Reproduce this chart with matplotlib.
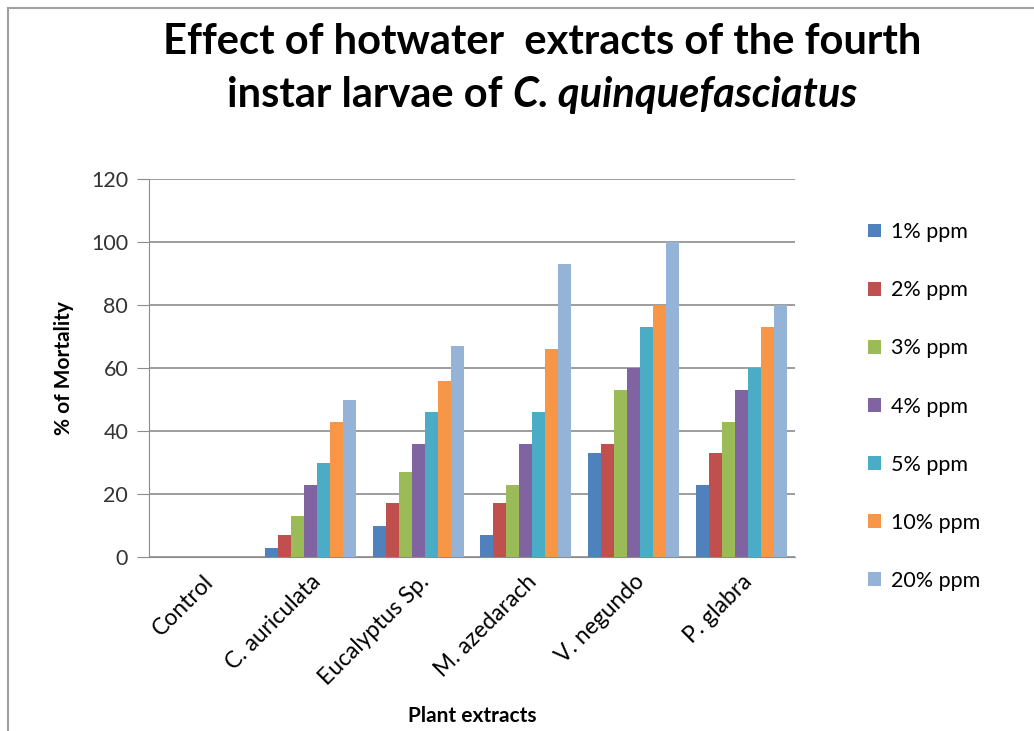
import matplotlib.pyplot as plt
import numpy as np
from matplotlib.patches import Rectangle

plt.rcParams["font.family"] = ["Lato", "DejaVu Sans"]

categories = ["Control", "C. auriculata", "Eucalyptus Sp.", "M. azedarach", "V. negundo", "P. glabra"]
series = ["1% ppm", "2% ppm", "3% ppm", "4% ppm", "5% ppm", "10% ppm", "20% ppm"]
ppm1 = [0, 3, 10, 7, 33, 23]
ppm2 = [0, 7, 17, 17, 36, 33]
ppm3 = [0, 13, 27, 23, 53, 43]
ppm4 = [0, 23, 36, 36, 60, 53]
ppm5 = [0, 30, 46, 46, 73, 60]
ppm10 = [0, 43, 56, 66, 80, 73]
ppm20 = [0, 50, 67, 93, 100, 80]
values = [ppm1, ppm2, ppm3, ppm4, ppm5, ppm10, ppm20]
colors = ["#4F81BD", "#C0504D", "#9BBB59", "#8064A2", "#4BACC6", "#F79646", "#95B3D7"]

W, H = 1034, 731
fig = plt.figure(figsize=(W / 100, H / 100), dpi=100)
ax = fig.add_axes([149/W, 1 - 557/H, (795-149)/W, (557-179)/H])

x = np.arange(len(categories))
w = 1 / (7 + 1.3)
for i, (vals, c, lab) in enumerate(zip(values, colors, series)):
    ax.bar(x + (i - 3) * w, vals, width=w, color=c, label=lab, zorder=3)

ax.set_xlim(-0.5, len(categories) - 0.5)
ax.set_ylim(0, 120)
ax.set_yticks(range(0, 121, 20))
ax.yaxis.grid(True, color="#8c8c8c", linewidth=1.2, zorder=0)
for s in ["top", "right"]:
    ax.spines[s].set_visible(False)
ax.spines["left"].set_color("#8c8c8c")
ax.spines["bottom"].set_color("#8c8c8c")
ax.tick_params(axis="y", length=9, color="#8c8c8c", labelsize=15.5, pad=6, labelcolor="#333333")
ax.tick_params(axis="x", length=0, labelsize=16.5, pad=10)
ax.set_xticks(x)
ax.set_xticklabels(categories, rotation=45, ha="right", rotation_mode="anchor")
ax.set_ylabel("% of Mortality", fontsize=15, fontweight="bold", labelpad=12)
ax.set_xlabel("Plant extracts", fontsize=15, fontweight="bold", labelpad=12)

ax.legend(loc="center left", bbox_to_anchor=(868/W, 1 - 406.5/H), bbox_transform=fig.transFigure,
          frameon=False, fontsize=15.5, borderpad=0, borderaxespad=0,
          labelspacing=1.77, handlelength=0.6, handleheight=0.6, handletextpad=0.45)

# title, second line has italic species name
fig.text(542/W, 1 - 42/H, "Effect of hotwater  extracts of the fourth", ha="center", va="center",
         fontsize=30, fontweight="bold")
t1 = fig.text(0, 1 - 95/H, "instar larvae of ", ha="left", va="center", fontsize=30, fontweight="bold")
t2 = fig.text(0, 1 - 95/H, "C. quinquefasciatus", ha="left", va="center", fontsize=30,
              fontweight="bold", style="italic")
r = fig.canvas.get_renderer()
w1 = t1.get_window_extent(r).width
w2 = t2.get_window_extent(r).width
x0 = 542 - (w1 + w2) / 2
t1.set_x(x0 / W)
t2.set_x((x0 + w1) / W)

fig.patches.append(Rectangle((8/W, -0.1), 1.1, 1 - 8/H + 0.1, transform=fig.transFigure,
                             fill=False, edgecolor="#a0a0a0", linewidth=1.5))

fig.savefig("out.png", dpi=100)
